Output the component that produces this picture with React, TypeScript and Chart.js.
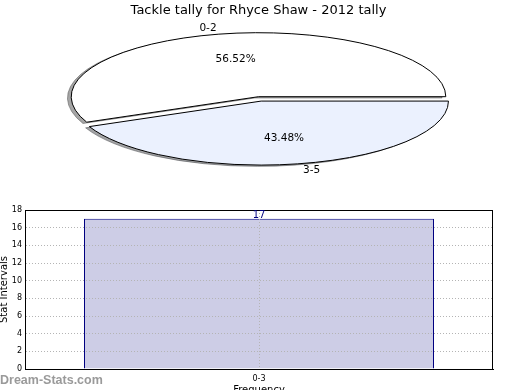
import React, { useEffect, useRef } from 'react';
import { Chart, registerables } from 'chart.js';

Chart.register(...registerables);

// ---------- data ----------
const TITLE = 'Tackle tally for Rhyce Shaw - 2012 tally';
// listed in drawing order (clockwise from east)
const PIE_LABELS = ['3-5', '0-2'];
const PIE_VALUES = [10, 13];
const PIE_EXPLODE = [0.07, 0];
const PIE_COLORS = ['#ebf1fe', '#ffffff'];
const PIE_SHADOWS = ['rgba(70,72,76,0.5)', 'rgba(77,77,77,0.5)'];

const BAR_CATEGORIES = ['0-3'];
const BAR_VALUES = [17];
const Y_MIN = 0;
const Y_MAX = 18;
const Y_STEP = 2;
const Y_TITLE = 'Stat Intervals';
const X_TITLE = 'Frequency';
const WATERMARK = 'Dream-Stats.com';

// ---------- style ----------
const FONT = "'DejaVu Sans', sans-serif";
const PIE_RADIUS = 64;
const PIE_ASPECT = 187.3 / 64;
const SHADOW_FRAC = 0.02;
const BAR_FILL = '#cdcde6';
const BAR_EDGE = '#000080';
const GRID = '#b4b4b4';

type Geo = {
  el: any; x: number; y: number; cx: number; cy: number; rx: number; ry: number;
  a0: number; a1: number; mid: number;
};

function pieGeometry(chart: any): Geo[] {
  const meta = chart.getDatasetMeta(0);
  return meta.data.map((el: any, i: number) => {
    const p = el.getProps(['x', 'y', 'startAngle', 'endAngle', 'outerRadius'], true);
    const mid = (p.startAngle + p.endAngle) / 2;
    const e = PIE_EXPLODE[i] * p.outerRadius;
    return {
      el,
      x: p.x,
      y: p.y,
      cx: p.x + Math.cos(mid) * e * PIE_ASPECT,
      cy: p.y + Math.sin(mid) * e,
      rx: p.outerRadius * PIE_ASPECT,
      ry: p.outerRadius,
      a0: p.startAngle,
      a1: p.endAngle,
      mid,
    };
  });
}

function wedgePath(ctx: CanvasRenderingContext2D, cx: number, cy: number, rx: number, ry: number, a0: number, a1: number) {
  ctx.beginPath();
  ctx.moveTo(cx, cy);
  ctx.ellipse(cx, cy, rx, ry, 0, a0, a1);
  ctx.closePath();
}

const ellipsePiePlugin = {
  id: 'ellipsePie',
  beforeDatasetsDraw(chart: any) {
    const ctx: CanvasRenderingContext2D = chart.ctx;
    const geo = pieGeometry(chart);
    // shadows under every wedge
    geo.forEach((g, i) => {
      ctx.save();
      wedgePath(ctx, g.cx - SHADOW_FRAC * g.rx, g.cy + SHADOW_FRAC * g.ry, g.rx, g.ry, g.a0, g.a1);
      ctx.fillStyle = PIE_SHADOWS[i];
      ctx.strokeStyle = PIE_SHADOWS[i];
      ctx.lineWidth = 1;
      ctx.fill();
      ctx.stroke();
      ctx.restore();
    });
    // wedge fills drawn by the arc elements, stretched into an ellipse
    geo.forEach((g) => {
      ctx.save();
      ctx.translate(g.cx, g.cy);
      ctx.scale(PIE_ASPECT, 1);
      ctx.translate(-g.x, -g.y);
      g.el.draw(ctx);
      ctx.restore();
    });
    // outlines
    geo.forEach((g) => {
      ctx.save();
      wedgePath(ctx, g.cx, g.cy, g.rx, g.ry, g.a0, g.a1);
      ctx.strokeStyle = '#000';
      ctx.lineWidth = 1;
      ctx.lineJoin = 'miter';
      ctx.stroke();
      ctx.restore();
    });
    return false;
  },
  afterDraw(chart: any) {
    const ctx: CanvasRenderingContext2D = chart.ctx;
    const geo = pieGeometry(chart);
    const values: number[] = chart.data.datasets[0].data;
    const total = values.reduce((a, b) => a + b, 0);
    ctx.save();
    ctx.fillStyle = '#000';
    ctx.font = `10.5px ${FONT}`;
    ctx.textBaseline = 'middle';
    geo.forEach((g, i) => {
      const c = Math.cos(g.mid);
      const s = Math.sin(g.mid);
      ctx.textAlign = c > 0 ? 'left' : 'right';
      ctx.fillText(String(chart.data.labels[i]), g.cx + c * 1.1 * g.rx, g.cy + s * 1.1 * g.ry);
      ctx.textAlign = 'center';
      ctx.fillText(((values[i] / total) * 100).toFixed(2) + '%', g.cx + c * 0.6 * g.rx, g.cy + s * 0.6 * g.ry);
    });
    ctx.restore();
  },
};

const barExtrasPlugin = {
  id: 'barExtras',
  afterDraw(chart: any) {
    const ctx: CanvasRenderingContext2D = chart.ctx;
    const a = chart.chartArea;
    ctx.save();
    ctx.strokeStyle = '#000';
    ctx.lineWidth = 1;
    ctx.beginPath();
    ctx.moveTo(a.left, a.top + 0.5);
    ctx.lineTo(a.right, a.top + 0.5);
    ctx.moveTo(a.right - 0.5, a.top);
    ctx.lineTo(a.right - 0.5, a.bottom + 1);
    ctx.stroke();
    // value labels
    const meta = chart.getDatasetMeta(0);
    ctx.fillStyle = BAR_EDGE;
    ctx.font = `10px ${FONT}`;
    ctx.textAlign = 'center';
    ctx.textBaseline = 'alphabetic';
    meta.data.forEach((bar: any, i: number) => {
      ctx.fillText(String(chart.data.datasets[0].data[i]), bar.x, bar.y - 0.5);
    });
    // watermark
    ctx.fillStyle = '#9a9a9a';
    ctx.font = `bold 12.5px 'Liberation Sans', sans-serif`;
    ctx.textAlign = 'left';
    ctx.textBaseline = 'middle';
    ctx.fillText(WATERMARK, 0, 190.5);
    ctx.restore();
  },
};

export default function App() {
  const pieRef = useRef<HTMLCanvasElement | null>(null);
  const barRef = useRef<HTMLCanvasElement | null>(null);

  useEffect(() => {
    const pie = new Chart(pieRef.current as HTMLCanvasElement, {
      type: 'pie',
      data: {
        labels: PIE_LABELS,
        datasets: [{ data: PIE_VALUES, backgroundColor: PIE_COLORS, borderWidth: 0 }],
      },
      options: {
        responsive: false,
        animation: false,
        devicePixelRatio: 1,
        rotation: 90,
        radius: PIE_RADIUS,
        layout: { padding: { left: 0, right: 3, top: 0, bottom: 15 } },
        plugins: {
          legend: { display: false },
          tooltip: { enabled: false },
          title: {
            display: true,
            text: TITLE,
            color: '#000',
            font: { family: FONT, size: 13, weight: 'normal' },
            padding: { top: 2.8, bottom: 0 },
          },
        },
      } as any,
      plugins: [ellipsePiePlugin as any],
    });

    const tickFont = { family: FONT, size: 8 };
    const titleFont = { family: FONT, size: 10 };
    const bar = new Chart(barRef.current as HTMLCanvasElement, {
      type: 'bar',
      data: {
        labels: BAR_CATEGORIES,
        datasets: [{
          data: BAR_VALUES,
          backgroundColor: BAR_FILL,
          borderColor: BAR_EDGE,
          borderWidth: 1,
          barThickness: 350,
          inflateAmount: 0,
        }],
      },
      options: {
        responsive: false,
        animation: false,
        devicePixelRatio: 1,
        layout: { padding: { left: 0, right: 27, top: 20, bottom: 0 } },
        plugins: { legend: { display: false }, tooltip: { enabled: false } },
        scales: {
          x: {
            offset: true,
            grid: { offset: false, color: GRID, drawTicks: false, z: 1 },
            border: { display: true, color: '#000', dash: [1, 2], z: 2 },
            ticks: { font: tickFont, color: '#000', padding: 5 },
            title: { display: true, text: X_TITLE, color: '#000', font: titleFont, padding: { top: 0, bottom: 8.5 } },
            afterFit(s: any) { s.height = 36; },
          },
          y: {
            min: Y_MIN,
            max: Y_MAX,
            grid: { color: GRID, drawTicks: false, z: 1 },
            border: { display: true, color: '#000', dash: [1, 2], z: 2 },
            ticks: { stepSize: Y_STEP, font: tickFont, color: '#000', padding: 3 },
            title: { display: true, text: Y_TITLE, color: '#000', font: titleFont, padding: { top: -1.4, bottom: 0 } },
            afterFit(s: any) { s.width = 25; },
          },
        },
      } as any,
      plugins: [barExtrasPlugin as any],
    });

    return () => {
      pie.destroy();
      bar.destroy();
    };
  }, []);

  return (
    <div style={{ position: 'absolute', left: 0, top: 0, width: 520, height: 390, overflow: 'hidden', background: '#fff' }}>
      <canvas ref={pieRef} width={520} height={190} style={{ position: 'absolute', left: 0, top: 0, display: 'block' }} />
      <canvas ref={barRef} width={520} height={215} style={{ position: 'absolute', left: 0, top: 190, display: 'block' }} />
    </div>
  );
}
